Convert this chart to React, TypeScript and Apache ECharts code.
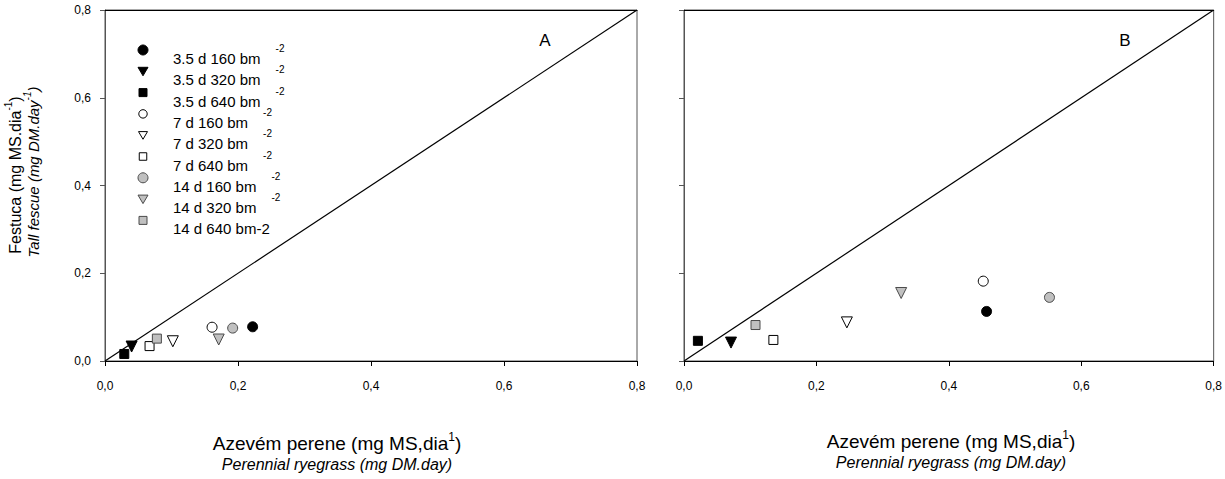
import React, { useEffect, useRef } from "react";
import * as echarts from "echarts";

// ---- data ----
const groupNames = [
  "3.5 d 160 bm", "3.5 d 320 bm", "3.5 d 640 bm",
  "7 d 160 bm", "7 d 320 bm", "7 d 640 bm",
  "14 d 160 bm", "14 d 320 bm", "14 d 640 bm-2",
];
const groupSup = ["-2", "-2", "-2", "-2", "-2", "-2", "-2", "-2", ""];
const groupShape = ["circle", "tri", "square", "circle", "tri", "square", "circle", "tri", "square"];
const groupFill = ["black", "black", "black", "white", "white", "white", "gray", "gray", "gray"];

const panelAX = [0.222, 0.040, 0.029, 0.161, 0.102, 0.067, 0.192, 0.171, 0.078];
const panelAY = [0.078, 0.033, 0.016, 0.077, 0.045, 0.034, 0.075, 0.049, 0.051];
const panelBX = [0.457, 0.071, 0.021, 0.452, 0.246, 0.135, 0.552, 0.328, 0.108];
const panelBY = [0.113, 0.042, 0.046, 0.182, 0.088, 0.048, 0.145, 0.155, 0.082];

const axisMin = 0;
const axisMax = 0.8;
const axisStep = 0.2;
const diagonal = [[0, 0], [0.8, 0.8]];
const panelLabels = ["A", "B"];

// ---- styles ----
const FONT = "'Liberation Sans', Arial, sans-serif";
const fillColor: Record<string, string> = { black: "#000000", white: "#ffffff", gray: "#c0c0c0" };
const strokeColor: Record<string, string> = { black: "#000000", white: "#000000", gray: "#4a4a4a" };

function symbolFor(shape: string) {
  if (shape === "circle") return { symbol: "circle", size: 10, rotate: 0 };
  if (shape === "tri") return { symbol: "triangle", size: 11, rotate: 180 };
  return { symbol: "rect", size: 9, rotate: 0 };
}

function legendMarker(shape: string, fill: string, cx: number, cy: number, big: boolean) {
  const style = { fill: fillColor[fill], stroke: strokeColor[fill], lineWidth: 1 };
  if (shape === "circle") {
    const r = big ? 5 : 4.2;
    return { type: "circle", shape: { cx, cy, r }, style };
  }
  if (shape === "tri") {
    const h = big ? 5 : 4.5;
    return {
      type: "polygon",
      shape: { points: [[cx - h, cy - h * 0.8], [cx + h, cy - h * 0.8], [cx, cy + h * 0.9]] },
      style,
    };
  }
  const s = big ? 8 : 7.5;
  return { type: "rect", shape: { x: cx - s / 2, y: cy - s / 2, width: s, height: s }, style };
}

export default function App() {
  const ref = useRef<HTMLDivElement>(null);

  useEffect(() => {
    document.body.style.margin = "0";
    if (!ref.current) return;
    const chart = echarts.init(ref.current, null, { renderer: "svg" });

    const grids = [
      { left: 105, top: 10, width: 532, height: 351 },
      { left: 684, top: 10, width: 532, height: 351 },
    ];

    const fmt = (v: number) => v.toFixed(1).replace(".", ",");

    const xAxes: any[] = [];
    const yAxes: any[] = [];
    grids.forEach((_, gi) => {
      xAxes.push({
        type: "value", gridIndex: gi, min: axisMin, max: axisMax, interval: axisStep,
        position: "bottom",
        axisLine: { show: true, lineStyle: { color: "#000", width: 1 } },
        axisTick: { show: true, length: 5, lineStyle: { color: "#000" } },
        axisLabel: { show: true, margin: 19, formatter: fmt, fontSize: 12, color: "#000", fontFamily: FONT },
        splitLine: { show: false },
      });
      xAxes.push({
        type: "value", gridIndex: gi, min: axisMin, max: axisMax, interval: axisStep,
        position: "top",
        axisLine: { show: true, onZero: false, lineStyle: { color: "#000", width: 1 } },
        axisTick: { show: false }, axisLabel: { show: false }, splitLine: { show: false },
      });
      yAxes.push({
        type: "value", gridIndex: gi, min: axisMin, max: axisMax, interval: axisStep,
        axisLine: { show: true, lineStyle: { color: "#555", width: 1 } },
        axisTick: { show: true, length: 5, lineStyle: { color: "#555" } },
        axisLabel: { show: gi === 0, margin: 14, formatter: fmt, fontSize: 12, color: "#000", fontFamily: FONT },
        splitLine: { show: false },
      });
    });

    const series: any[] = [];
    const panels = [
      { xs: panelAX, ys: panelAY },
      { xs: panelBX, ys: panelBY },
    ];
    panels.forEach((p, pi) => {
      series.push({
        type: "line", xAxisIndex: pi * 2, yAxisIndex: pi, data: diagonal,
        symbol: "none", lineStyle: { color: "#000", width: 1.2 }, silent: true, z: 1,
      });
      groupNames.forEach((name, gi) => {
        const s = symbolFor(groupShape[gi]);
        series.push({
          type: "scatter", name, xAxisIndex: pi * 2, yAxisIndex: pi,
          data: [[p.xs[gi], p.ys[gi]]],
          symbol: s.symbol, symbolSize: s.size, symbolRotate: s.rotate,
          itemStyle: { color: fillColor[groupFill[gi]], borderColor: strokeColor[groupFill[gi]], borderWidth: 1, opacity: 1 },
          z: 3,
        });
      });
    });

    const graphic: any[] = [];
    // legend
    groupNames.forEach((name, i) => {
      const my = 50 + i * 21.3;
      const filled = groupFill[i] !== "white";
      graphic.push(legendMarker(groupShape[i], groupFill[i], 143, my, filled));
      const sup = groupSup[i];
      graphic.push({
        type: "text", x: 173, y: my + 8.5,
        style: {
          text: sup ? `${name}{s|${sup}}` : name,
          font: `15px ${FONT}`, fill: "#000", verticalAlign: "middle", align: "left",
          rich: { s: { fontSize: 10, fontFamily: FONT, fill: "#000", padding: [0, 0, 20, 15] } },
        },
      });
    });
    // panel labels
    panelLabels.forEach((lab, i) => {
      graphic.push({
        type: "text", x: i === 0 ? 545 : 1125, y: 40,
        style: { text: lab, font: `17px ${FONT}`, fill: "#000", align: "center", verticalAlign: "middle" },
      });
    });
    // y axis title
    graphic.push({
      type: "text", x: 15, y: 175, rotation: Math.PI / 2,
      style: {
        text: "Festuca (mg MS.dia{s|-1})", font: `16px ${FONT}`, fill: "#000",
        align: "center", verticalAlign: "middle",
        rich: { s: { fontSize: 10, fontFamily: FONT, fill: "#000", padding: [0, 0, 13, 0] } },
      },
    });
    graphic.push({
      type: "text", x: 33, y: 172, rotation: Math.PI / 2,
      style: {
        text: "Tall fescue (mg DM.day{s|-1})", font: `italic 15px ${FONT}`, fill: "#000",
        align: "center", verticalAlign: "middle",
        rich: { s: { fontSize: 10, fontStyle: "italic", fontFamily: FONT, fill: "#000", padding: [0, 0, 12, 0] } },
      },
    });
    // x axis titles
    const xTitlePos = [
      { x: 337, y1: 443, y2: 464 },
      { x: 951, y1: 441, y2: 462 },
    ];
    xTitlePos.forEach((p) => {
      graphic.push({
        type: "text", x: p.x, y: p.y1,
        style: {
          text: "Azevém perene (mg MS,dia{s|1})", font: `19px ${FONT}`, fill: "#000",
          align: "center", verticalAlign: "middle",
          rich: { s: { fontSize: 12, fontFamily: FONT, fill: "#000", padding: [0, 0, 12, 0] } },
        },
      });
      graphic.push({
        type: "text", x: p.x, y: p.y2,
        style: {
          text: "Perennial ryegrass (mg DM.day)", font: `italic 16px ${FONT}`, fill: "#000",
          align: "center", verticalAlign: "middle",
        },
      });
    });

    chart.setOption({
      animation: false,
      backgroundColor: "#ffffff",
      grid: grids.map((g) => ({ ...g, show: true, borderColor: "#555", borderWidth: 1, backgroundColor: "transparent" })),
      xAxis: xAxes,
      yAxis: yAxes,
      series,
      graphic,
    });

    return () => chart.dispose();
  }, []);

  return (
    <div
      ref={ref}
      style={{ position: "fixed", left: 0, top: 0, width: 1225, height: 479, background: "#fff" }}
    />
  );
}
